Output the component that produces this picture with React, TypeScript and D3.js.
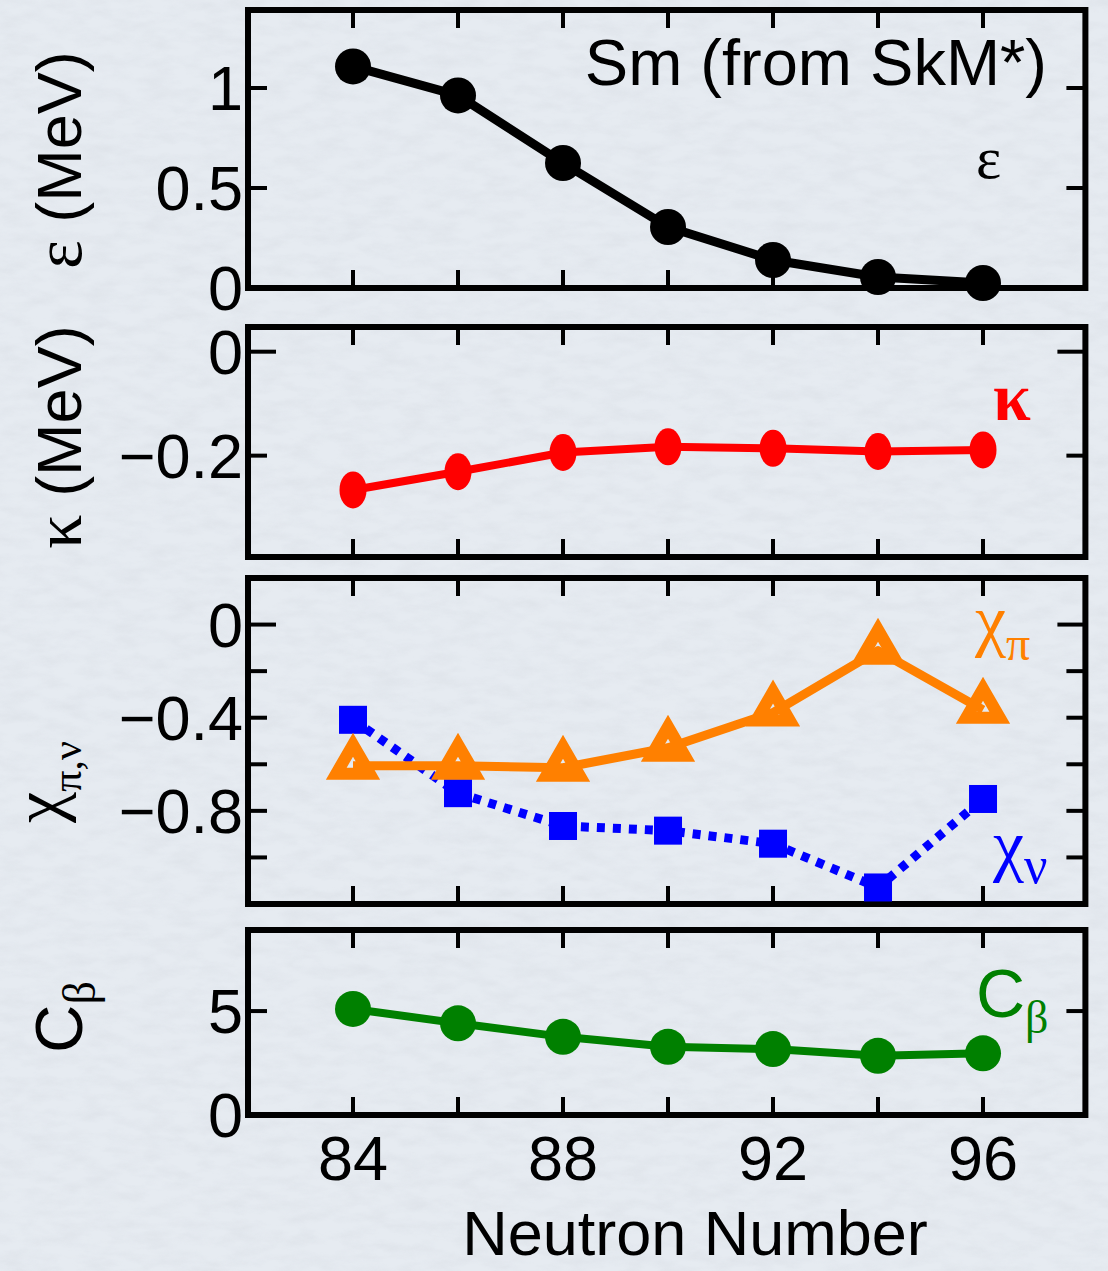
import React from 'react';
import * as d3 from 'd3';

const W = 1108;
const H = 1271;

// Data
const neutrons = [84, 86, 88, 90, 92, 94, 96];
const epsilon = [1.108, 0.963, 0.625, 0.305, 0.14, 0.055, 0.025];
const kappa = [-0.266, -0.231, -0.194, -0.183, -0.186, -0.192, -0.189];
const chiPi = [-0.606, -0.606, -0.615, -0.529, -0.378, -0.112, -0.366];
const chiNu = [-0.409, -0.724, -0.865, -0.885, -0.941, -1.129, -0.749];
const cBeta = [5.1, 4.41, 3.76, 3.28, 3.17, 2.85, 2.97];

const xTicks = [84, 86, 88, 90, 92, 94, 96];
const xTickLabels = [84, 88, 92, 96];

const p1Ticks = [0.5, 1];
const p1Labels = [0, 0.5, 1];
const p2Ticks = [0, -0.2];
const p2Labels = [0, -0.2];
const p3Ticks = [0, -0.2, -0.4, -0.6, -0.8, -1.0];
const p3Labels = [0, -0.4, -0.8];
const p4Ticks = [5];
const p4Labels = [0, 5];

const SANS = "'Liberation Sans', Arial, Helvetica, sans-serif";
const SERIF = "'Liberation Serif', 'Times New Roman', serif";

const fmt = (v: number) => {
  const s = String(Math.abs(v));
  return v < 0 ? '\u2212' + s : s;
};

export default function App() {
  const x = d3.scaleLinear().domain([82, 97.95]).range([248, 1085.4]);
  const y1 = d3.scaleLinear().domain([0, 1.39]).range([288, 10]);
  const y2 = d3.scaleLinear().domain([-0.395, 0.0475]).range([557, 327]);
  const y3 = d3.scaleLinear().domain([-1.2, 0.2]).range([904, 578]);
  const y4 = d3.scaleLinear().domain([0, 8.9]).range([1115, 930]);

  const x0 = x(82);
  const x1 = x(97.95);

  const panels = [
    { y: y1, ticks: p1Ticks, labels: p1Labels },
    { y: y2, ticks: p2Ticks, labels: p2Labels },
    { y: y3, ticks: p3Ticks, labels: p3Labels },
    { y: y4, ticks: p4Ticks, labels: p4Labels },
  ];

  const mkLine = (y: d3.ScaleLinear<number, number>) =>
    d3
      .line<number>()
      .x((_, i) => x(neutrons[i]))
      .y((d) => y(d));

  const tri = 'M0,-21 L16.75,8 L-16.75,8 Z';

  return (
    <svg
      width={W}
      height={H}
      viewBox={`0 0 ${W} ${H}`}
      style={{ position: 'absolute', left: 0, top: 0, display: 'block' }}
    >
      <defs>
        <filter id="paper" x="0" y="0" width="100%" height="100%">
          <feTurbulence type="fractalNoise" baseFrequency="0.035 0.09" numOctaves={4} seed={7} result="n" />
          <feColorMatrix
            in="n"
            type="matrix"
            values="0 0 0 0 0.55  0 0 0 0 0.58  0 0 0 0 0.63  0.5 0 0 0 -0.18"
          />
        </filter>
      </defs>
      <rect x={0} y={0} width={W} height={H} fill="#e6ebf1" />
      <rect x={0} y={0} width={W} height={H} filter="url(#paper)" opacity={0.7} />

      {panels.map((p, pi) => {
        const top = p.y.range()[1];
        const bot = p.y.range()[0];
        return (
          <g key={pi}>
            {xTicks.map((t) => (
              <g key={t}>
                <line x1={x(t)} x2={x(t)} y1={top} y2={top + 18} stroke="#000" strokeWidth={4} />
                <line x1={x(t)} x2={x(t)} y1={bot} y2={bot - 18} stroke="#000" strokeWidth={4} />
              </g>
            ))}
            {p.ticks.map((t) => {
              const len = t === 0 ? 28 : 19;
              return (
                <g key={t}>
                  <line x1={x0} x2={x0 + len} y1={p.y(t)} y2={p.y(t)} stroke="#000" strokeWidth={4} />
                  <line x1={x1} x2={x1 - len} y1={p.y(t)} y2={p.y(t)} stroke="#000" strokeWidth={4} />
                </g>
              );
            })}
            {p.labels.map((t) => (
              <text
                key={t}
                x={243}
                y={p.y(t) + 22}
                textAnchor="end"
                fontFamily={SANS}
                fontSize={63}
                fill="#000"
              >
                {fmt(t)}
              </text>
            ))}
            <rect x={x0} y={top} width={x1 - x0} height={bot - top} fill="none" stroke="#000" strokeWidth={6} />
          </g>
        );
      })}

      {/* X tick labels */}
      {xTickLabels.map((t) => (
        <text key={t} x={x(t)} y={1180} textAnchor="middle" fontFamily={SANS} fontSize={63} fill="#000">
          {t}
        </text>
      ))}
      <text x={695} y={1255} textAnchor="middle" fontFamily={SANS} fontSize={63} fill="#000">
        Neutron Number
      </text>

      {/* Panel 1: epsilon */}
      <path d={mkLine(y1)(epsilon) || ''} fill="none" stroke="#000" strokeWidth={9} strokeLinejoin="round" />
      {epsilon.map((v, i) => (
        <circle key={i} cx={x(neutrons[i])} cy={y1(v)} r={18} fill="#000" />
      ))}
      <text x={1047} y={85} textAnchor="end" fontFamily={SANS} fontSize={65} fill="#000">
        Sm (from SkM*)
      </text>
      <text x={976} y={178} fontFamily={SERIF} fontSize={60} fill="#000">
        ε
      </text>

      {/* Panel 2: kappa */}
      <path d={mkLine(y2)(kappa) || ''} fill="none" stroke="#ff0000" strokeWidth={8} strokeLinejoin="round" />
      {kappa.map((v, i) => (
        <ellipse key={i} cx={x(neutrons[i])} cy={y2(v)} rx={13.5} ry={18.5} fill="#ff0000" />
      ))}
      <text x={993} y={420} fontFamily={SERIF} fontSize={68} fontWeight="bold" fill="#ff0000">
        κ
      </text>

      {/* Panel 3: chi */}
      <path
        d={mkLine(y3)(chiNu) || ''}
        fill="none"
        stroke="#0000ff"
        strokeWidth={9}
        strokeDasharray="8 8"
      />
      {chiNu.map((v, i) => (
        <rect key={i} x={x(neutrons[i]) - 14} y={y3(v) - 14} width={28} height={28} fill="#0000ff" />
      ))}
      <path d={mkLine(y3)(chiPi) || ''} fill="none" stroke="#ff8000" strokeWidth={9} strokeLinejoin="round" />
      {chiPi.map((v, i) => (
        <path
          key={i}
          d={tri}
          transform={`translate(${x(neutrons[i])},${y3(v)})`}
          fill="none"
          stroke="#ff8000"
          strokeWidth={12}
          strokeLinejoin="miter"
        />
      ))}
      <text x={975} y={643} fontFamily={SERIF} fontSize={70} fill="#ff8000">
        χ<tspan fontSize={48} dy={17}>π</tspan>
      </text>
      <text x={993} y={868} fontFamily={SERIF} fontSize={70} fill="#0000ff">
        χ<tspan fontSize={52} dy={15}>ν</tspan>
      </text>

      {/* Panel 4: C beta */}
      <path d={mkLine(y4)(cBeta) || ''} fill="none" stroke="#008000" strokeWidth={8} strokeLinejoin="round" />
      {cBeta.map((v, i) => (
        <circle key={i} cx={x(neutrons[i])} cy={y4(v)} r={18} fill="#008000" />
      ))}
      <text x={976} y={1017} fontFamily={SANS} fontSize={68} fill="#008000">
        C
        <tspan fontFamily={SERIF} fontSize={46} dy={16}>
          β
        </tspan>
      </text>

      {/* Y axis titles */}
      <text transform="translate(81,160) rotate(-90)" textAnchor="middle" fontFamily={SANS} fontSize={63} fill="#000">
        <tspan fontFamily={SERIF} fontSize={68}>ε</tspan>
        <tspan>{' (MeV)'}</tspan>
      </text>
      <text transform="translate(81,437) rotate(-90)" textAnchor="middle" fontFamily={SANS} fontSize={63} fill="#000">
        <tspan fontFamily={SERIF} fontSize={68}>κ</tspan>
        <tspan>{' (MeV)'}</tspan>
      </text>
      <text transform="translate(61,782) rotate(-90)" textAnchor="middle" fontFamily={SERIF} fontSize={70} fill="#000">
        χ<tspan fontSize={42} dy={20}>π,ν</tspan>
      </text>
      <text transform="translate(82,1017) rotate(-90)" textAnchor="middle" fontFamily={SANS} fontSize={67} fill="#000">
        C
        <tspan fontFamily={SERIF} fontSize={46} dy={13}>
          β
        </tspan>
      </text>
    </svg>
  );
}
